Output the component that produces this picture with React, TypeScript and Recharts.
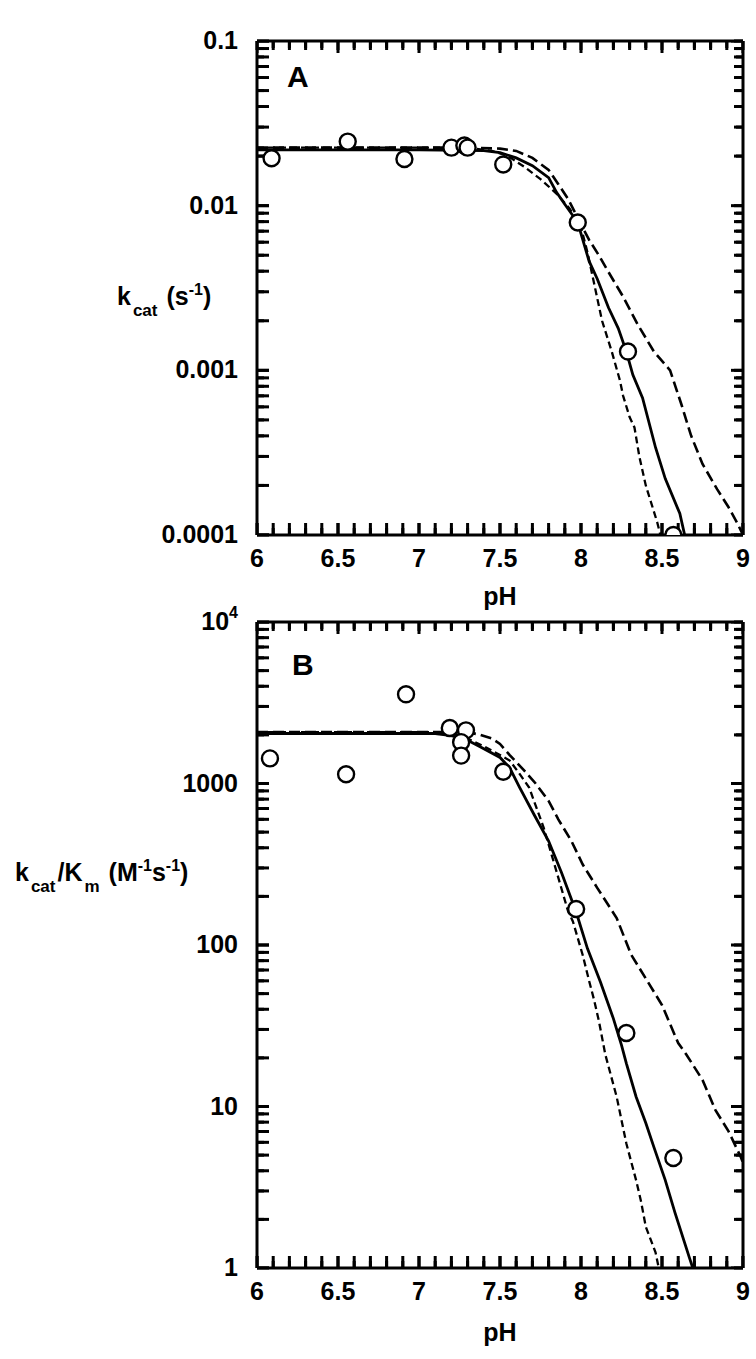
import React from 'react';
import { ComposedChart, Line, Scatter, XAxis, YAxis } from 'recharts';

// pH axis
const phTicks = [6, 6.1, 6.2, 6.3, 6.4, 6.5, 6.6, 6.7, 6.8, 6.9, 7, 7.1, 7.2, 7.3, 7.4, 7.5, 7.6, 7.7, 7.8, 7.9, 8, 8.1, 8.2, 8.3, 8.4, 8.5, 8.6, 8.7, 8.8, 8.9, 9];
const decadesA = [0.0001, 0.001, 0.01, 0.1];
const decadesB = [1, 10, 100, 1000, 10000];

// panel A: kcat (s-1)
const pointsA_ph = [6.09, 6.56, 6.91, 7.2, 7.28, 7.3, 7.52, 7.98, 8.29, 8.57];
const pointsA_k = [0.0194, 0.0245, 0.0192, 0.0225, 0.0232, 0.0225, 0.0178, 0.0079, 0.0013, 0.0001];

const solidA_ph = [6, 7, 7.4, 7.5, 7.6, 7.7, 7.8, 7.85, 7.9, 7.98, 8.05, 8.1, 8.17, 8.23, 8.28, 8.32, 8.38, 8.46, 8.52, 8.61, 8.64];
const solidA_k = [0.0218, 0.0218, 0.0216, 0.021, 0.0195, 0.0175, 0.0148, 0.012, 0.0102, 0.0079, 0.0046, 0.0036, 0.0024, 0.0018, 0.0013, 0.00094, 0.00068, 0.00034, 0.00022, 0.000135, 0.0001];

const shortA_ph = [6, 7.3, 7.45, 7.55, 7.65, 7.75, 7.85, 7.93, 8, 8.04, 8.08, 8.13, 8.19, 8.24, 8.26, 8.3, 8.33, 8.36, 8.4, 8.47, 8.49];
const shortA_k = [0.0225, 0.0225, 0.0215, 0.02, 0.0172, 0.0145, 0.0118, 0.0096, 0.0074, 0.0052, 0.0034, 0.002, 0.0013, 0.00087, 0.0007, 0.00052, 0.00045, 0.0003, 0.0002, 0.00012, 0.0001];

const longA_ph = [6, 7.3, 7.5, 7.6, 7.7, 7.8, 7.86, 7.92, 8, 8.05, 8.11, 8.16, 8.26, 8.35, 8.45, 8.55, 8.62, 8.68, 8.75, 8.84, 8.91, 8.965, 9];
const longA_k = [0.0225, 0.0225, 0.0222, 0.0215, 0.0195, 0.0165, 0.0135, 0.011, 0.0077, 0.0062, 0.005, 0.0041, 0.0028, 0.0019, 0.0013, 0.001, 0.00062, 0.0004, 0.00027, 0.00019, 0.000148, 0.000118, 0.0001];

// panel B: kcat/Km (M-1 s-1)
const pointsB_ph = [6.08, 6.55, 6.92, 7.19, 7.29, 7.26, 7.26, 7.52, 7.97, 8.28, 8.57];
const pointsB_v = [1430, 1140, 3566, 2207, 2134, 1803, 1489, 1183, 167, 28.5, 4.8];

const solidB_ph = [6, 7.1, 7.2, 7.3, 7.38, 7.5, 7.56, 7.62, 7.71, 7.8, 7.88, 7.97, 8.04, 8.12, 8.2, 8.25, 8.28, 8.34, 8.4, 8.45, 8.52, 8.58, 8.67, 8.69];
const solidB_v = [2040, 2040, 1980, 1850, 1680, 1450, 1250, 950, 643, 440, 280, 160, 95, 59, 35, 24, 18.5, 11.5, 7.9, 5.6, 3.5, 2.2, 1.15, 1];

const shortB_ph = [6, 7.1, 7.2, 7.3, 7.4, 7.5, 7.56, 7.62, 7.68, 7.77, 7.83, 7.92, 7.95, 8.01, 8.05, 8.08, 8.11, 8.15, 8.22, 8.28, 8.34, 8.37, 8.4, 8.46, 8.48];
const shortB_v = [2080, 2080, 2050, 1900, 1700, 1500, 1386, 1150, 944, 531, 331, 162, 140, 87, 60, 46, 34, 21, 11.5, 5.9, 3.5, 2.6, 1.8, 1.25, 1];

const longB_ph = [6, 7.3, 7.38, 7.45, 7.5, 7.56, 7.65, 7.72, 7.8, 7.86, 7.94, 8.01, 8.1, 8.22, 8.31, 8.4, 8.5, 8.6, 8.65, 8.75, 8.83, 8.91, 8.985, 9];
const longB_v = [2080, 2080, 2000, 1900, 1759, 1500, 1200, 1000, 780, 600, 442, 316, 226, 147, 87, 62, 42.5, 24.7, 21, 14.6, 9.5, 7.05, 4.9, 4.5];

const zip = (xs: number[], ys: number[]) => xs.map((x, i) => ({ x, y: ys[i] }));
const logTicks = (decades: number[]) => {
  const out: number[] = [];
  decades.forEach((d, i) => {
    out.push(d);
    if (i < decades.length - 1) for (let m = 2; m <= 9; m++) out.push(+(d * m).toPrecision(6));
  });
  return out;
};
const isDecade = (v: number) => Math.abs(Math.log10(v) - Math.round(Math.log10(v))) < 1e-6;
const isHalf = (v: number) => Math.abs(v * 2 - Math.round(v * 2)) < 1e-6;

const FONT = '"Liberation Sans", Arial, sans-serif';
const txt = { fontFamily: FONT, fontWeight: 700, fontSize: 25, fill: '#000' };

const BottomLabel = (p: any) => {
  const v = p.payload.value;
  if (!isHalf(v)) return <g />;
  return (
    <text x={p.x} y={p.y + 44} textAnchor="middle" {...txt}>
      {String(v)}
    </text>
  );
};
const makeLeftLabel = (fmt: (v: number) => React.ReactNode) => (p: any) => {
  const v = p.payload.value;
  if (!isDecade(v)) return <g />;
  return (
    <text x={p.x - 31} y={p.y + 8} textAnchor="end" {...txt}>
      {fmt(v)}
    </text>
  );
};
const NoLabel = () => <g />;
const fmtA = (v: number) => String(v);
const fmtB = (v: number) =>
  v === 10000 ? (
    <>
      10<tspan fontSize={16} dy={-12}>4</tspan>
    </>
  ) : (
    String(v)
  );

// inward tick marks as short paths on scatter points placed at the frame
const tickShape = (dir: string) => (p: any) => {
  const len = p.payload && p.payload.major ? 12 : 7;
  const cx = Number(p.cx);
  const cy = Number(p.cy);
  let d = '';
  if (dir === 'up') d = `M${cx},${cy}L${cx},${cy - len}`;
  else if (dir === 'down') d = `M${cx},${cy}L${cx},${cy + len}`;
  else if (dir === 'right') d = `M${cx},${cy}L${cx + len},${cy}`;
  else d = `M${cx},${cy}L${cx - len},${cy}`;
  return <path d={d} stroke="#000" strokeWidth={3} fill="none" />;
};

const OpenCircle = (p: any) => <circle cx={p.cx} cy={p.cy} r={8} fill="#fff" stroke="#000" strokeWidth={2.4} />;

const frame = { stroke: '#000', strokeWidth: 3 };
const tl = { stroke: '#000', strokeWidth: 3 };

function Panel({ top, height, margin, domain, decades, fmt, points, solid, short, long, letter }: any) {
  const yt = logTicks(decades);
  const [ymin, ymax] = domain;
  const xMarksBottom = phTicks.map((v) => ({ x: v, y: ymin, major: isHalf(v) }));
  const xMarksTop = phTicks.map((v) => ({ x: v, y: ymax, major: isHalf(v) }));
  const yMarksLeft = yt.map((v) => ({ x: 6, y: v, major: isDecade(v) }));
  const yMarksRight = yt.map((v) => ({ x: 9, y: v, major: isDecade(v) }));
  const ax = { xAxisId: 'b', yAxisId: 'l', dataKey: 'y', isAnimationActive: false };
  return (
    <div style={{ position: 'absolute', left: 0, top, width: 756, height }}>
      <ComposedChart width={756} height={height} margin={margin}>
        <XAxis xAxisId="b" dataKey="x" type="number" domain={[6, 9]} ticks={phTicks} interval={0}
          height={30} tickSize={-12} tickMargin={0} tickLine={tl} tick={<BottomLabel />}
          axisLine={frame} allowDataOverflow />
        <XAxis xAxisId="t" orientation="top" dataKey="x" type="number" domain={[6, 9]} ticks={phTicks} interval={0}
          height={5} tickSize={-9} tickMargin={0} tickLine={tl} tick={<NoLabel />} axisLine={frame} allowDataOverflow />
        <YAxis yAxisId="l" type="number" scale="log" domain={domain} ticks={yt} interval={0}
          width={30} tickSize={-12} tickMargin={0} tickLine={tl} tick={makeLeftLabel(fmt)}
          axisLine={frame} allowDataOverflow />
        <YAxis yAxisId="r" orientation="right" type="number" scale="log" domain={domain} ticks={yt} interval={0}
          width={5} tickSize={-9} tickMargin={0} tickLine={tl} tick={<NoLabel />} axisLine={frame} allowDataOverflow />
        <Scatter {...ax} data={xMarksBottom} shape={tickShape('up')} />
        <Scatter {...ax} data={xMarksTop} shape={tickShape('down')} />
        <Scatter {...ax} data={yMarksLeft} shape={tickShape('right')} />
        <Scatter {...ax} data={yMarksRight} shape={tickShape('left')} />
        <Line {...ax} data={long} type="linear" dot={false}
          stroke="#000" strokeWidth={2.6} strokeDasharray="11 5" />
        <Line {...ax} data={short} type="linear" dot={false}
          stroke="#000" strokeWidth={2.3} strokeDasharray="7 4" />
        <Line {...ax} data={solid} type="linear" dot={false} stroke="#000" strokeWidth={2.8} />
        <Scatter {...ax} data={points} shape={<OpenCircle />} />
      </ComposedChart>
      <div style={{ position: 'absolute', left: letter.x, top: letter.y, fontFamily: FONT, fontWeight: 700, fontSize: 30, lineHeight: 1 }}>
        {letter.text}
      </div>
    </div>
  );
}

const labelStyle: React.CSSProperties = {
  position: 'absolute', fontFamily: FONT, fontWeight: 700, fontSize: 25, lineHeight: 1, whiteSpace: 'nowrap', color: '#000',
};
const sub: React.CSSProperties = { fontSize: 17, position: 'relative', top: 11, margin: '0 2px' };
const sup: React.CSSProperties = { fontSize: 16, position: 'relative', top: -10 };

export default function App() {
  return (
    <div style={{ position: 'absolute', left: 0, top: 0, width: 756, height: 1359, background: '#fff' }}>
      <Panel
        top={0} height={620} margin={{ top: 36, left: 227, right: 8, bottom: 55 }}
        domain={[0.0001, 0.1]} decades={decadesA} fmt={fmtA}
        points={zip(pointsA_ph, pointsA_k)} solid={zip(solidA_ph, solidA_k)}
        short={zip(shortA_ph, shortA_k)} long={zip(longA_ph, longA_k)}
        letter={{ text: 'A', x: 287, y: 62 }}
      />
      <Panel
        top={600} height={759} margin={{ top: 17, left: 227, right: 8, bottom: 61 }}
        domain={[1, 10000]} decades={decadesB} fmt={fmtB}
        points={zip(pointsB_ph, pointsB_v)} solid={zip(solidB_ph, solidB_v)}
        short={zip(shortB_ph, shortB_v)} long={zip(longB_ph, longB_v)}
        letter={{ text: 'B', x: 292, y: 50 }}
      />
      <div style={{ ...labelStyle, left: 450, width: 100, textAlign: 'center', top: 584 }}>pH</div>
      <div style={{ ...labelStyle, left: 450, width: 100, textAlign: 'center', top: 1320 }}>pH</div>
      <div style={{ ...labelStyle, left: 117, top: 284 }}>
        k<span style={sub}>cat</span> (s<span style={sup}>-1</span>)
      </div>
      <div style={{ ...labelStyle, left: 15, top: 860 }}>
        k<span style={sub}>cat</span>/K<span style={sub}>m</span> (M<span style={sup}>-1</span>s<span style={sup}>-1</span>)
      </div>
    </div>
  );
}
